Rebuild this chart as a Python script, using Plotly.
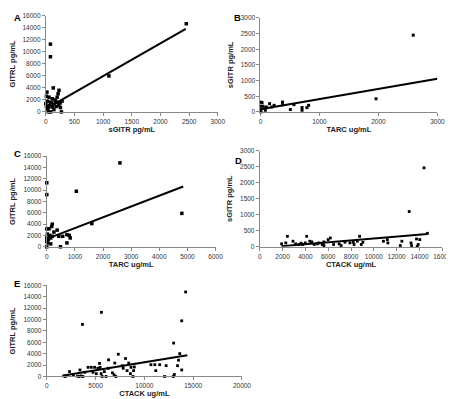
import plotly.graph_objects as go

# ---------------- Data ----------------
# Panel A: GITRL vs sGITR
a_x = [80, 80, 130, 20, 230, 1100, 2450, 10, 56, 27, 0, 10, 44, 85, 113, 141, 170, 198, 214, 226, 255, 283, 272, 44, 85, 141, 113, 60, 100, 160, 200, 250, 30, 180]
a_y = [11300, 9200, 4000, 3300, 3600, 6000, 14700, 2620, 2460, 1800, 1380, 930, 720, 1640, 2200, 1260, 1800, 2460, 3020, 1100, 720, 1800, 0, 0, 0, 390, 800, 1100, 1500, 2000, 1600, 1500, 500, 900]
a_line_x = [0, 2440]
a_line_y = [510, 13840]

# Panel B: sGITR vs TARC
b_x = [2590, 1960, 10, 27, 0, 43, 83, 100, 154, 192, 232, 374, 374, 507, 568, 705, 705, 788, 816, 0, 10, 60]
b_y = [2450, 420, 310, 295, 180, 180, 53, 157, 263, 157, 210, 313, 230, 75, 232, 138, 53, 138, 210, 75, 0, 120]
b_line_x = [0, 3000]
b_line_y = [85, 1060]

# Panel C: GITRL vs TARC
c_x = [0, 0, 1050, 2600, 4800, 1600, 194, 173, 80, 0, 253, 368, 20, 104, 139, 0, 56, 194, 427, 565, 715, 798, 832, 715, 486, 20, 139, 0, 0]
c_y = [11300, 9200, 9800, 14800, 5900, 4100, 3990, 3580, 3170, 3170, 2600, 2950, 2250, 2020, 1560, 1560, 1270, 1850, 1850, 1850, 2140, 2020, 1560, 690, 0, 690, 520, 0, 1000]
c_line_x = [0, 4850]
c_line_y = [1400, 10650]

# Panel D: sGITR vs CTACK
d_x = [14400, 13100, 14700, 1910, 2280, 2420, 2910, 3140, 3420, 3620, 3760, 3990, 4110, 4390, 4560, 4770, 5050, 5190, 5470, 5620, 5620, 5990, 6190, 6470, 6960, 7130, 7470, 7900, 8190, 8270, 8550, 8750, 8900, 9040, 10840, 11180, 11230, 12320, 12460, 13260, 13310, 13740, 13890, 14030, 13800]
d_y = [2460, 1100, 420, 92, 122, 327, 174, 92, 72, 113, 72, 122, 327, 174, 153, 72, 92, 122, 72, 153, 40, 225, 275, 72, 92, 40, 143, 122, 143, 72, 174, 327, 72, 143, 174, 225, 122, 40, 174, 122, 40, 245, 72, 225, 10]
d_line_x = [1900, 14700]
d_line_y = [20, 400]

# Panel E: GITRL vs CTACK
e_x = [14230, 5600, 3660, 13830, 13000, 1730, 1900, 2100, 2330, 2730, 3160, 3300, 3500, 3700, 3400, 3900, 4230, 4560, 4730, 4900, 5070, 5230, 5400, 5470, 5570, 5670, 5900, 6070, 6300, 6330, 6730, 6900, 6970, 7070, 7330, 7730, 7830, 8070, 8230, 8400, 8570, 8630, 8830, 8900, 8970, 10670, 11070, 11170, 11570, 12070, 12230, 12970, 13070, 13400, 13500, 13630, 13830]
e_y = [14850, 11270, 9150, 9780, 5870, 100, 0, 200, 860, 290, 50, 0, 100, 0, 1150, 740, 1610, 1610, 740, 1610, 500, 1440, 2300, 1610, 500, 0, 860, 0, 1440, 2930, 640, 290, 2360, 0, 3910, 1900, 1440, 3160, 1030, 2360, 500, 1610, 0, 1030, 1670, 2070, 2070, 1030, 2070, 0, 1900, 0, 350, 1900, 2870, 4020, 1150]
e_line_x = [1730, 14400]
e_line_y = [170, 3740]

x_titles = ["sGITR pg/mL", "TARC ug/mL", "TARC ug/mL", "CTACK ug/mL", "CTACK ug/mL"]
y_titles = ["GITRL pg/mL", "sGITR pg/mL", "GITRL pg/mL", "sGITR pg/mL", "GITRL pg/mL"]
panel_letters = ["A", "B", "C", "D", "E"]
x_ranges = [[0, 3000], [0, 3000], [0, 6000], [0, 16000], [0, 20000]]
y_ranges = [[0, 16000], [0, 3000], [0, 16000], [0, 3000], [0, 16000]]
x_dticks = [500, 1000, 1000, 2000, 5000]
y_dticks = [2000, 500, 2000, 500, 2000]

# ---------------- Layout geometry (pixels) ----------------
W, H = 454, 399
# (x0, x1, y_bottom, y_top) in pixel coords from top-left
boxes = [
    (36.7, 213.0, 101.7, 4.0),
    (256.7, 438.0, 101.7, 6.0),
    (37.7, 210.7, 239.0, 146.7),
    (256.0, 443.0, 239.0, 141.0),
    (37.7, 237.7, 371.0, 278.3),
]
letter_pos = [(2, 6), (228, 6), (2, 144), (229, 151), (2, 276)]
x_standoffs = [2, 2, 2, 2, 2]

series = [
    (a_x, a_y, a_line_x, a_line_y),
    (b_x, b_y, b_line_x, b_line_y),
    (c_x, c_y, c_line_x, c_line_y),
    (d_x, d_y, d_line_x, d_line_y),
    (e_x, e_y, e_line_x, e_line_y),
]

FONT = "Liberation Sans, Arial, sans-serif"
fig = go.Figure()
layout = dict(
    width=W, height=H, margin=dict(l=0, r=0, t=0, b=0),
    paper_bgcolor="white", plot_bgcolor="white", showlegend=False,
    font=dict(family=FONT, size=6.5, color="#333333"),
)
annotations = []
marker_sizes = [3.5, 3, 3.5, 2.8, 2.8]
for i, (xs, ys, lx, ly) in enumerate(series):
    n = "" if i == 0 else str(i + 1)
    xa, ya = "x" + n, "y" + n
    fig.add_trace(go.Scatter(x=xs, y=ys, mode="markers", xaxis=xa, yaxis=ya,
                             marker=dict(symbol="square", size=marker_sizes[i], color="black"),
                             cliponaxis=False))
    fig.add_trace(go.Scatter(x=lx, y=ly, mode="lines", xaxis=xa, yaxis=ya,
                             line=dict(color="black", width=2), cliponaxis=False))
    x0, x1, yb, yt = boxes[i]
    layout["xaxis" + n] = dict(
        domain=[x0 / W, x1 / W], range=x_ranges[i], dtick=x_dticks[i], anchor=ya,
        tickformat="d", tickangle=0,
        showgrid=False, zeroline=False, showline=True, linecolor="#888888", linewidth=1,
        ticks="outside", ticklen=3, tickcolor="#888888",
        tickfont=dict(size=6.5, color="#333333"),
        title=dict(text="<b>" + x_titles[i] + "</b>", font=dict(size=7.5, color="#222222"),
                   standoff=x_standoffs[i]),
    )
    layout["yaxis" + n] = dict(
        domain=[1 - yb / H, 1 - yt / H], range=y_ranges[i], dtick=y_dticks[i], anchor=xa,
        tickformat="d",
        showgrid=False, zeroline=False, showline=True, linecolor="#888888", linewidth=1,
        ticks="outside", ticklen=3, tickcolor="#888888",
        tickfont=dict(size=6.5, color="#333333"),
        title=dict(text="<b>" + y_titles[i] + "</b>", font=dict(size=7.5, color="#222222"), standoff=6),
    )
    lxp, lyp = letter_pos[i]
    annotations.append(dict(text="<b>" + panel_letters[i] + "</b>", x=lxp / W, y=1 - lyp / H,
                            xref="paper", yref="paper", xanchor="left", yanchor="middle",
                            showarrow=False, font=dict(size=9.5, color="black")))
layout["annotations"] = annotations
fig.update_layout(**layout)
fig.write_html("out.html")
